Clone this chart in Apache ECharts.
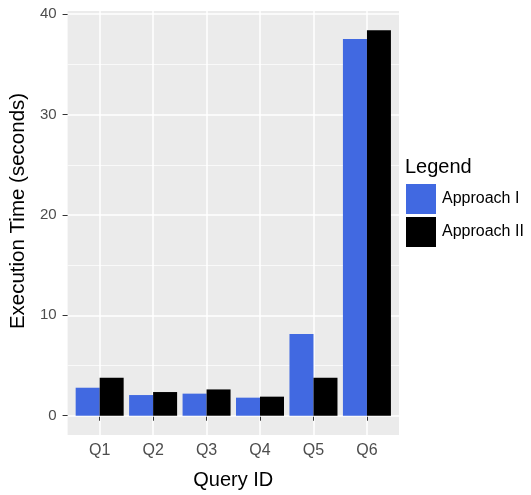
<!DOCTYPE html>
<html>
<head>
<meta charset="utf-8">
<script src="https://cdn.jsdelivr.net/npm/echarts@6/dist/echarts.min.js"></script>
<style>
  html, body { margin: 0; padding: 0; background: #fff; }
  #mainChart { width: 531px; height: 495px; }
</style>
</head>
<body>
<div id="mainChart"></div>
<script>
// 数据
var categories = ['Q1', 'Q2', 'Q3', 'Q4', 'Q5', 'Q6'];
var approach1 = [2.79, 2.06, 2.2, 1.8, 8.15, 37.54];
var approach2 = [3.78, 2.36, 2.62, 1.9, 3.78, 38.4];
var yTicks = [0, 10, 20, 30, 40];
var yMinorTicks = [5, 15, 25, 35];
var xPositions = [1, 2, 3, 4, 5, 6];

var myChart = echarts.init(document.getElementById('mainChart'), null, { renderer: 'canvas' });

function toPoints(values) {
    return values.map(function (v, i) { return [xPositions[i], v]; });
}

var option = {
    animation: false,
    textStyle: { fontFamily: 'Liberation Sans, Arial, sans-serif' },
    title: {
        text: 'Legend',
        left: 405,
        top: 157,
        padding: 0,
        textStyle: { fontSize: 20, fontWeight: 'normal', color: '#000' }
    },
    legend: {
        orient: 'vertical',
        left: 406,
        top: 184,
        padding: 0,
        itemWidth: 30,
        itemHeight: 30,
        itemGap: 3,
        icon: 'rect',
        data: ['Approach I', 'Approach II'],
        textStyle: { fontSize: 16, color: '#000', padding: [0, 0, 0, 1] }
    },
    grid: {
        left: 67,
        right: 132,
        top: 11,
        bottom: 59,
        show: true,
        backgroundColor: '#EBEBEB',
        borderWidth: 0,
        containLabel: false
    },
    xAxis: {
        type: 'value',
        min: 0.4,
        max: 6.6,
        name: 'Query ID',
        nameLocation: 'middle',
        nameGap: 35,
        nameTextStyle: { fontSize: 20, color: '#000' },
        axisLine: { show: false },
        axisTick: { show: true, length: 5, customValues: xPositions, lineStyle: { color: '#333' } },
        axisLabel: {
            customValues: xPositions,
            fontSize: 16,
            color: '#4D4D4D',
            margin: 8,
            formatter: function (v) { return categories[Math.round(v) - 1] || ''; }
        },
        splitLine: { show: true, lineStyle: { color: '#fff', width: 1.5 } }
    },
    yAxis: [{
        type: 'value',
        min: -1.92,
        max: 40.32,
        name: 'Execution Time (seconds)',
        nameLocation: 'middle',
        nameGap: 34,
        nameTextStyle: { fontSize: 20.5, color: '#000', padding: [0, 0, 0, 24] },
        axisLine: { show: false },
        axisTick: { show: true, length: 5, customValues: yTicks, lineStyle: { color: '#333' } },
        axisLabel: { customValues: yTicks, fontSize: 15, color: '#4D4D4D', margin: 11 },
        splitLine: { show: true, lineStyle: { color: '#fff', width: 1.5 } },
        z: 2
    }, {
        type: 'value',
        min: -1.92,
        max: 40.32,
        position: 'left',
        axisLine: { show: false },
        axisTick: { show: false, customValues: yMinorTicks },
        axisLabel: { show: false, customValues: yMinorTicks },
        splitLine: { show: true, lineStyle: { color: '#fff', width: 0.7 } },
        z: 1
    }],
    series: [{
        name: 'Approach I',
        type: 'bar',
        barWidth: 24,
        barGap: '0%',
        itemStyle: { color: '#4169E1' },
        data: toPoints(approach1)
    }, {
        name: 'Approach II',
        type: 'bar',
        barWidth: 24,
        barGap: '0%',
        itemStyle: { color: '#000000' },
        data: toPoints(approach2)
    }]
};

myChart.setOption(option);
</script>
</body>
</html>
